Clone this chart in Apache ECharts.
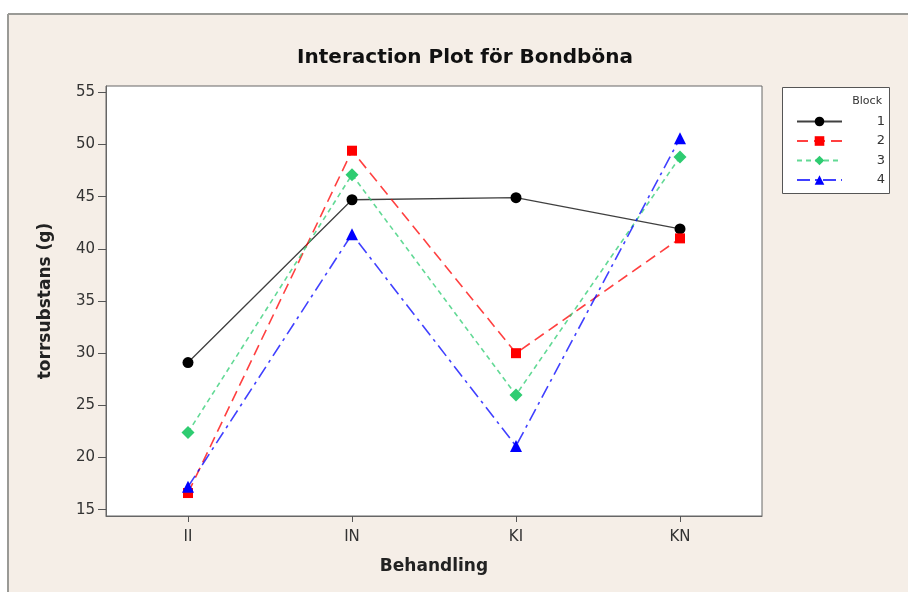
<!DOCTYPE html>
<html>
<head>
<meta charset="utf-8">
<script src="https://cdn.jsdelivr.net/npm/echarts@6/dist/echarts.min.js"></script>
<style>
html,body{margin:0;padding:0;background:#fff;}
#c{width:908px;height:592px;}
</style>
</head>
<body>
<div id="c"></div>
<script>
var categories = ['II', 'IN', 'KI', 'KN'];
var block1 = [29.1, 44.7, 44.9, 41.9];
var block2 = [16.6, 49.4, 30.0, 41.0];
var block3 = [22.4, 47.1, 26.0, 48.8];
var block4 = [17.2, 41.4, 21.1, 50.6];
var yTicks = [15, 20, 25, 30, 35, 40, 45, 50, 55];
var seriesNames = ['1', '2', '3', '4'];

var font = 'DejaVu Sans';
var chart = echarts.init(document.getElementById('c'));

function mk(name, data, color, symbol, size, dash, width) {
  return {
    name: name, type: 'line', data: data,
    symbol: symbol, symbolSize: size,
    itemStyle: {color: color},
    lineStyle: {color: color, width: width, type: dash, opacity: 0.75},
    emphasis: {disabled: true},
    z: 3
  };
}

chart.setOption({
  backgroundColor: '#ffffff',
  animation: false,
  graphic: [
    {type: 'rect', shape: {x: 8, y: 14, width: 900, height: 578}, style: {fill: '#f5eee7'}, z: -10},
    {type: 'line', shape: {x1: 8, y1: 14, x2: 908, y2: 14}, style: {stroke: '#9a9a96', lineWidth: 2}, z: -9},
    {type: 'line', shape: {x1: 8, y1: 14, x2: 8, y2: 592}, style: {stroke: '#9a9a96', lineWidth: 2}, z: -9},
    {type: 'rect', shape: {x: 782.5, y: 87.5, width: 107, height: 106}, style: {fill: '#ffffff', stroke: '#555555', lineWidth: 1}, z: -5},
    {type: 'text', x: 882, y: 101, style: {text: 'Block', fill: '#333', font: '11px ' + font, textAlign: 'right', textVerticalAlign: 'middle'}}
  ],
  title: {
    text: 'Interaction Plot för Bondböna',
    left: 460, top: 43, textAlign: 'center',
    textStyle: {fontFamily: font, fontSize: 20, fontWeight: 'bold', color: '#111'}
  },
  legend: {
    orient: 'vertical',
    left: 791, top: 110,
    itemWidth: 45, itemHeight: 12, itemGap: 6.5,
    data: seriesNames,
    formatter: function (n) { return '{a|' + n + '}'; },
    textStyle: {
      fontFamily: font, fontSize: 13, color: '#333',
      rich: {a: {width: 38, align: 'right', fontFamily: font, fontSize: 13, color: '#333'}}
    },
    selectedMode: false
  },
  grid: {
    left: 106, top: 86, right: 146, bottom: 76,
    show: true, backgroundColor: '#ffffff', borderColor: '#666666', borderWidth: 1
  },
  xAxis: {
    type: 'category', data: categories, boundaryGap: true,
    name: 'Behandling', nameLocation: 'middle', nameGap: 42,
    nameTextStyle: {fontFamily: font, fontSize: 17, fontWeight: 'bold', color: '#222'},
    axisLine: {show: true, lineStyle: {color: '#666', width: 1}},
    axisTick: {show: true, alignWithLabel: true, length: 6, lineStyle: {color: '#555'}},
    axisLabel: {fontFamily: font, fontSize: 15, color: '#333', margin: 14},
    splitLine: {show: false}
  },
  yAxis: {
    type: 'value', min: 14.4, max: 55.6,
    name: 'torrsubstans (g)', nameLocation: 'middle', nameGap: 52,
    nameTextStyle: {fontFamily: font, fontSize: 17, fontWeight: 'bold', color: '#222'},
    axisLine: {show: true, lineStyle: {color: '#666', width: 1}},
    axisTick: {show: true, length: 8, customValues: yTicks, lineStyle: {color: '#555'}},
    axisLabel: {fontFamily: font, fontSize: 15, color: '#333', margin: 11, customValues: yTicks},
    splitLine: {show: false}
  },
  series: [
    mk('1', block1, '#000000', 'circle', 11, 'solid', 1.3),
    mk('2', block2, '#ff0000', 'rect', 10, [11, 6], 1.6),
    mk('3', block3, '#2ecc71', 'diamond', 13, [5, 4], 1.6),
    mk('4', block4, '#0000ff', 'triangle', 12, [13, 5, 3, 5], 1.6)
  ]
});
</script>
</body>
</html>
